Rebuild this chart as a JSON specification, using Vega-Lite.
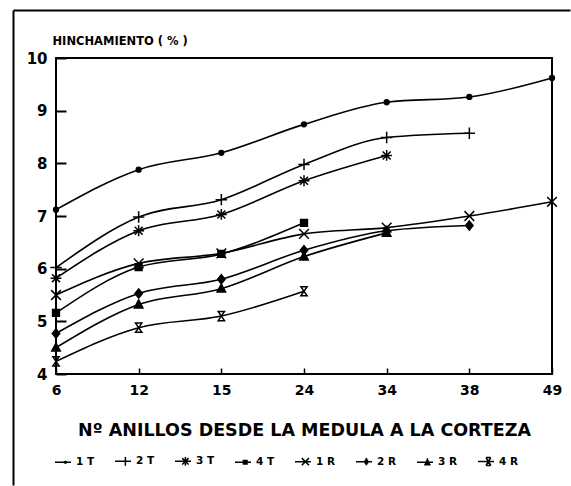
{
  "$schema": "https://vega.github.io/schema/vega-lite/v6.json",
  "width": 496,
  "height": 316,
  "padding": {"left": 13, "top": 10, "right": 0, "bottom": 0},
  "background": "white",
  "config": {
    "font": "DejaVu Sans",
    "view": {"stroke": "black", "strokeWidth": 2},
    "axis": {"grid": false}
  },
  "datasets": {
    "main": [
      {"series": "1 T", "anillos": 6, "h": 7.12},
      {"series": "1 T", "anillos": 12, "h": 7.88},
      {"series": "1 T", "anillos": 15, "h": 8.2},
      {"series": "1 T", "anillos": 24, "h": 8.74},
      {"series": "1 T", "anillos": 34, "h": 9.16},
      {"series": "1 T", "anillos": 38, "h": 9.26},
      {"series": "1 T", "anillos": 49, "h": 9.62},
      {"series": "2 T", "anillos": 6, "h": 6.02},
      {"series": "2 T", "anillos": 12, "h": 6.98},
      {"series": "2 T", "anillos": 15, "h": 7.31},
      {"series": "2 T", "anillos": 24, "h": 7.98},
      {"series": "2 T", "anillos": 34, "h": 8.49},
      {"series": "2 T", "anillos": 38, "h": 8.57},
      {"series": "3 T", "anillos": 6, "h": 5.82},
      {"series": "3 T", "anillos": 12, "h": 6.72},
      {"series": "3 T", "anillos": 15, "h": 7.03},
      {"series": "3 T", "anillos": 24, "h": 7.67},
      {"series": "3 T", "anillos": 34, "h": 8.15},
      {"series": "4 T", "anillos": 6, "h": 5.16},
      {"series": "4 T", "anillos": 12, "h": 6.03},
      {"series": "4 T", "anillos": 15, "h": 6.28},
      {"series": "4 T", "anillos": 24, "h": 6.87},
      {"series": "1 R", "anillos": 6, "h": 5.5},
      {"series": "1 R", "anillos": 12, "h": 6.1},
      {"series": "1 R", "anillos": 15, "h": 6.29},
      {"series": "1 R", "anillos": 24, "h": 6.66},
      {"series": "1 R", "anillos": 34, "h": 6.78},
      {"series": "1 R", "anillos": 38, "h": 7.0},
      {"series": "1 R", "anillos": 49, "h": 7.27},
      {"series": "2 R", "anillos": 6, "h": 4.77},
      {"series": "2 R", "anillos": 12, "h": 5.53},
      {"series": "2 R", "anillos": 15, "h": 5.8},
      {"series": "2 R", "anillos": 24, "h": 6.35},
      {"series": "2 R", "anillos": 34, "h": 6.72},
      {"series": "2 R", "anillos": 38, "h": 6.82},
      {"series": "3 R", "anillos": 6, "h": 4.5},
      {"series": "3 R", "anillos": 12, "h": 5.32},
      {"series": "3 R", "anillos": 15, "h": 5.62},
      {"series": "3 R", "anillos": 24, "h": 6.23},
      {"series": "3 R", "anillos": 34, "h": 6.68},
      {"series": "4 R", "anillos": 6, "h": 4.24},
      {"series": "4 R", "anillos": 12, "h": 4.88},
      {"series": "4 R", "anillos": 15, "h": 5.1},
      {"series": "4 R", "anillos": 24, "h": 5.57}
    ],
    "frame": [{"fx": 0.5, "fy": 0.5}]
  },
  "layer": [
    {
      "data": {"name": "main"},
      "encoding": {
        "x": {
          "field": "anillos",
          "type": "ordinal",
          "scale": {"type": "point", "padding": 0},
          "axis": {
            "orient": "bottom",
            "domain": false,
            "tickSize": -6,
            "tickWidth": 1.5,
            "tickColor": "black",
            "labelPadding": 15,
            "labelAngle": 0,
            "labelFont": "DejaVu Sans",
            "labelFontWeight": "bold",
            "labelFontSize": 14,
            "labelColor": "black",
            "title": "Nº ANILLOS DESDE LA MEDULA A LA CORTEZA",
            "titleFont": "DejaVu Sans",
            "titleFontWeight": "bold",
            "titleFontSize": 17.5,
            "titleColor": "black",
            "titlePadding": 24
          }
        },
        "y": {
          "field": "h",
          "type": "quantitative",
          "scale": {"domain": [4, 10], "nice": false, "zero": false},
          "axis": {
            "orient": "left",
            "values": [4, 5, 6, 7, 8, 9, 10],
            "domain": false,
            "tickSize": -10,
            "tickWidth": 2,
            "tickColor": "black",
            "labelPadding": 19,
            "labelFont": "DejaVu Sans",
            "labelFontWeight": "bold",
            "labelFontSize": 15,
            "labelColor": "black",
            "title": "HINCHAMIENTO ( % )",
            "titleFont": "DejaVu Sans",
            "titleFontWeight": "bold",
            "titleFontSize": 11.5,
            "titleColor": "black",
            "titleAngle": 0,
            "titleAlign": "left",
            "titleBaseline": "middle",
            "titleX": -4,
            "titleY": -17
          }
        }
      },
      "layer": [
        {
          "mark": {"type": "line", "interpolate": "monotone", "color": "black", "strokeWidth": 1.6},
          "encoding": {"detail": {"field": "series"}}
        },
        {
          "mark": {"type": "point", "size": 130, "filled": false, "color": "black", "stroke": "black", "strokeWidth": 1.5, "opacity": 1},
          "encoding": {
            "shape": {
              "field": "series",
              "type": "nominal",
              "scale": {
                "domain": ["1 T", "2 T", "3 T", "4 T", "1 R", "2 R", "3 R", "4 R"],
                "range": [
                  "M-0.42,0A0.42,0.42,0,1,1,0.42,0A0.42,0.42,0,1,1,-0.42,0Z",
                  "M-1,0L1,0M0,-1L0,1",
                  "M-0.95,0L0.95,0M0,-0.95L0,0.95M-0.7,-0.7L0.7,0.7M-0.7,0.7L0.7,-0.7",
                  "M-0.6,-0.6L0.6,-0.6L0.6,0.6L-0.6,0.6Z",
                  "M-0.85,-0.85L0.85,0.85M-0.85,0.85L0.85,-0.85",
                  "M0,-0.8L0.65,0L0,0.8L-0.65,0Z",
                  "M0,-0.8L0.75,0.6L-0.75,0.6Z",
                  "M-0.55,-0.8L0.55,-0.8L-0.55,0.8L0.55,0.8Z"
                ]
              },
              "legend": null
            },
            "fill": {
              "field": "series",
              "type": "nominal",
              "scale": {
                "domain": ["1 T", "2 T", "3 T", "4 T", "1 R", "2 R", "3 R", "4 R"],
                "range": ["black", "transparent", "transparent", "black", "transparent", "black", "black", "transparent"]
              },
              "legend": null
            }
          }
        },
        {
          "mark": {"type": "point", "size": 4, "filled": false, "color": "black", "stroke": "black", "strokeWidth": 1.5, "opacity": 0},
          "encoding": {
            "shape": {
              "field": "series",
              "type": "nominal",
              "scale": {
                "domain": ["1 T", "2 T", "3 T", "4 T", "1 R", "2 R", "3 R", "4 R"],
                "range": [
                  "M-1,0L1,0M0.2,-0.15L0.2,0.15M0.3,-0.2L0.3,0.2M0.4,-0.15L0.4,0.15",
                  "M-1,0L1,0M0.3,-0.55L0.3,0.55",
                  "M-1,0L1,0M0.3,-0.55L0.3,0.55M-0.1,-0.4L0.7,0.4M-0.1,0.4L0.7,-0.4",
                  "M-1,0L1,0M0.05,-0.3L0.05,0.3M0.2,-0.3L0.2,0.3M0.35,-0.3L0.35,0.3M0.5,-0.3L0.5,0.3",
                  "M-1,0L1,0M-0.15,-0.45L0.75,0.45M-0.15,0.45L0.75,-0.45",
                  "M-1,0L1,0M0.3,-0.45L0.3,0.45M0.18,-0.3L0.42,-0.3M0.07,-0.15L0.53,-0.15M-0.05,0L0.65,0M0.07,0.15L0.53,0.15M0.18,0.3L0.42,0.3",
                  "M-1,0L1,0M0.3,-0.5L0.3,0.3M-0.1,0.3L0.7,0.3M-0.02,0.15L0.62,0.15M0.05,0L0.55,0M0.12,-0.15L0.48,-0.15M0.2,-0.3L0.4,-0.3",
                  "M-1,0L1,0M0,-0.5L0.6,-0.5M0.6,-0.5L0,0.5M0,0.5L0.6,0.5M0.6,0.5L0,-0.5"
                ]
              },
              "legend": {
                "title": null,
                "orient": "none",
                "legendX": -2,
                "legendY": 394,
                "direction": "horizontal",
                "columns": 8,
                "columnPadding": 17,
                "padding": 0,
                "symbolSize": 256,
                "symbolOpacity": 1,
                "symbolStrokeWidth": 1.5,
                "symbolStrokeColor": "black",
                "symbolFillColor": "transparent",
                "labelOffset": 4,
                "labelFont": "DejaVu Sans",
                "labelFontWeight": "bold",
                "labelFontSize": 10.5,
                "labelColor": "black",
                "encoding": {
                  "symbols": {
                    "stroke": {"value": "black"},
                    "strokeWidth": {"value": 1.5},
                    "opacity": {"value": 1}
                  }
                }
              }
            }
          }
        }
      ],
      "resolve": {
        "scale": {"shape": "independent"},
        "legend": {"shape": "independent"}
      }
    },
    {
      "data": {"name": "frame"},
      "mark": {"type": "point", "opacity": 0, "size": 4},
      "encoding": {
        "x": {
          "field": "fx",
          "type": "quantitative",
          "scale": {"domain": [0, 1], "range": [-43, 514], "nice": false, "zero": false},
          "axis": {"orient": "top", "offset": 48, "ticks": false, "labels": false, "title": null, "grid": false, "domainColor": "black", "domainWidth": 2}
        },
        "y": {
          "field": "fy",
          "type": "quantitative",
          "scale": {"domain": [0, 1], "range": [427, -48], "nice": false, "zero": false},
          "axis": {"orient": "left", "offset": 43, "ticks": false, "labels": false, "title": null, "grid": false, "domainColor": "black", "domainWidth": 2}
        }
      }
    }
  ],
  "resolve": {
    "scale": {"x": "independent", "y": "independent"},
    "axis": {"x": "independent", "y": "independent"}
  }
}
